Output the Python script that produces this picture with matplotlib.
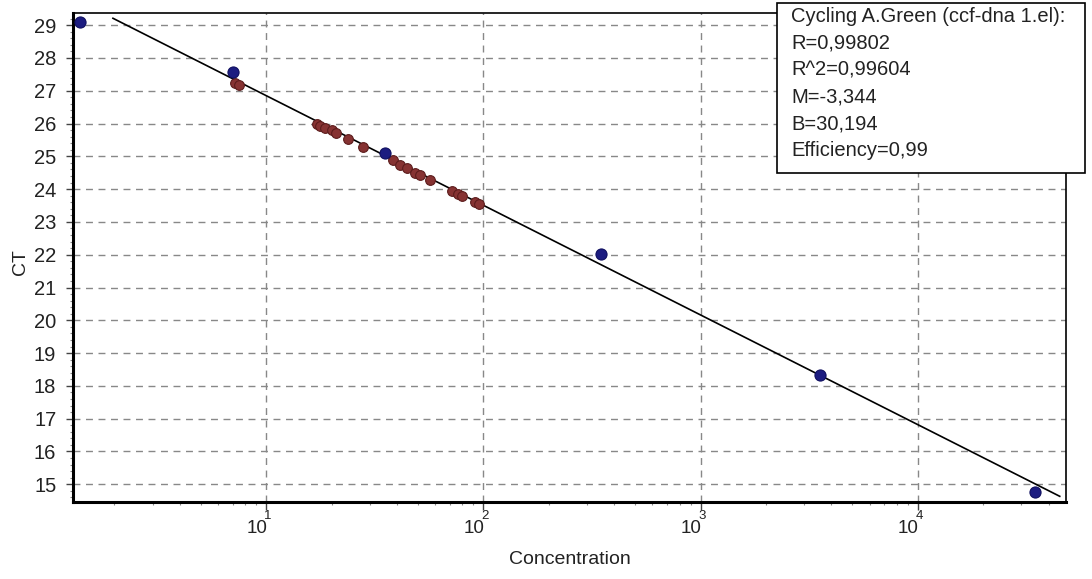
import numpy as np
import matplotlib
matplotlib.use("Agg")
import matplotlib.pyplot as plt
from matplotlib.patches import Rectangle
from matplotlib.ticker import FixedLocator, MultipleLocator, LogLocator, NullFormatter

plt.rcParams['font.family'] = ['Liberation Sans', 'DejaVu Sans']

# Standards (blue)
std_conc = [1.39, 7.05, 35.3, 348, 3530, 34600]
std_ct = [29.10, 27.58, 25.09, 22.02, 18.33, 14.75]

# Unknowns (red)
unk_conc = [7.2, 7.5, 17.2, 17.7, 18.7, 20.0, 21.0, 23.9, 28.0, 38.5, 41.5,
            44.7, 48.6, 51.3, 57.0, 72.0, 76.7, 80.0, 91.8, 95.9]
unk_ct = [27.23, 27.17, 25.98, 25.92, 25.86, 25.80, 25.72, 25.52, 25.28, 24.88,
          24.73, 24.64, 24.50, 24.43, 24.27, 23.94, 23.85, 23.79, 23.60, 23.54]

# Fit
slope_m = -3.344
intercept_b = 30.194
line_range = [1.97, 45000]

x_ticks = [10, 100, 1000, 10000]
x_tick_base = '10'
x_tick_exp = ['1', '2', '3', '4']
y_ticks = list(range(15, 30))

legend_lines = ["Cycling A.Green (ccf-dna 1.el):", "R=0,99802", "R^2=0,99604",
                "M=-3,344", "B=30,194", "Efficiency=0,99"]

W, H = 1092, 579
fig = plt.figure(figsize=(W / 100, H / 100), dpi=100)
fig.patch.set_facecolor('white')
ax = fig.add_axes([73 / W, 1 - 502 / H, (1066 - 73) / W, (502 - 13) / H])

ax.set_xscale('log')
ax.set_xlim(1.29, 48090)
ax.set_ylim(14.46, 29.37)

xl = np.logspace(np.log10(line_range[0]), np.log10(line_range[1]), 50)
ax.plot(xl, slope_m * np.log10(xl) + intercept_b, color='black', lw=1.2, zorder=3)

ax.plot(unk_conc, unk_ct, linestyle='none', marker='o', ms=7,
        mfc='#863232', mec='#5c1c1c', mew=0.8, zorder=4)
ax.plot(std_conc, std_ct, linestyle='none', marker='o', ms=8,
        mfc='#1c1c80', mec='#101060', mew=0.8, zorder=5)

ax.xaxis.set_major_locator(FixedLocator(x_ticks))
ax.xaxis.set_major_formatter(NullFormatter())
ax.xaxis.set_minor_locator(LogLocator(base=10, subs=np.arange(2, 10)))
ax.xaxis.set_minor_formatter(NullFormatter())
for xt, ex in zip(x_ticks, x_tick_exp):
    ax.annotate(x_tick_base, xy=(xt, 0), xycoords=('data', 'axes fraction'),
                xytext=(1, -18), textcoords='offset pixels', ha='right', va='top',
                fontsize=13.5, color='#222222', annotation_clip=False)
    ax.annotate(ex, xy=(xt, 0), xycoords=('data', 'axes fraction'),
                xytext=(2, -8), textcoords='offset pixels', ha='center', va='top',
                fontsize=9.5, color='#222222', annotation_clip=False)

ax.yaxis.set_major_locator(FixedLocator(y_ticks))
ax.set_yticklabels([str(v) for v in y_ticks], fontsize=14.5, color='#222222')
ax.yaxis.set_minor_locator(MultipleLocator(0.2))

ax.tick_params(axis='y', which='major', direction='out', length=5, width=1, color='#444444', pad=7)
ax.tick_params(axis='x', which='major', direction='out', length=6, width=1, color='#444444')
ax.tick_params(axis='both', which='minor', direction='out', length=2.5, width=0.8, color='#888888')

ax.grid(True, which='major', color='#888888', linestyle=(0, (5, 4)), linewidth=1)
for s in ['left', 'bottom']:
    ax.spines[s].set_linewidth(2.2)
for s in ['top', 'right']:
    ax.spines[s].set_linewidth(1.2)

fig.text(569.5 / W, 1 - 560 / H, 'Concentration', fontsize=14, ha='center', va='center', color='#222222')
fig.text(20 / W, 1 - 262 / H, 'CT', fontsize=14, ha='center', va='center', rotation=90, color='#222222')

# Legend box
x0, y0, x1, y1 = 777, 3, 1085, 173
fig.add_artist(Rectangle((x0 / W, 1 - y1 / H), (x1 - x0) / W, (y1 - y0) / H,
                         transform=fig.transFigure, facecolor='white',
                         edgecolor='black', linewidth=1.2, zorder=10))
for i, t in enumerate(legend_lines):
    fig.text(791 / W, 1 - (16 + 27 * i) / H, t, fontsize=14.5, va='center', ha='left',
             color='#222222', zorder=11)

fig.savefig('out.png', dpi=100)
